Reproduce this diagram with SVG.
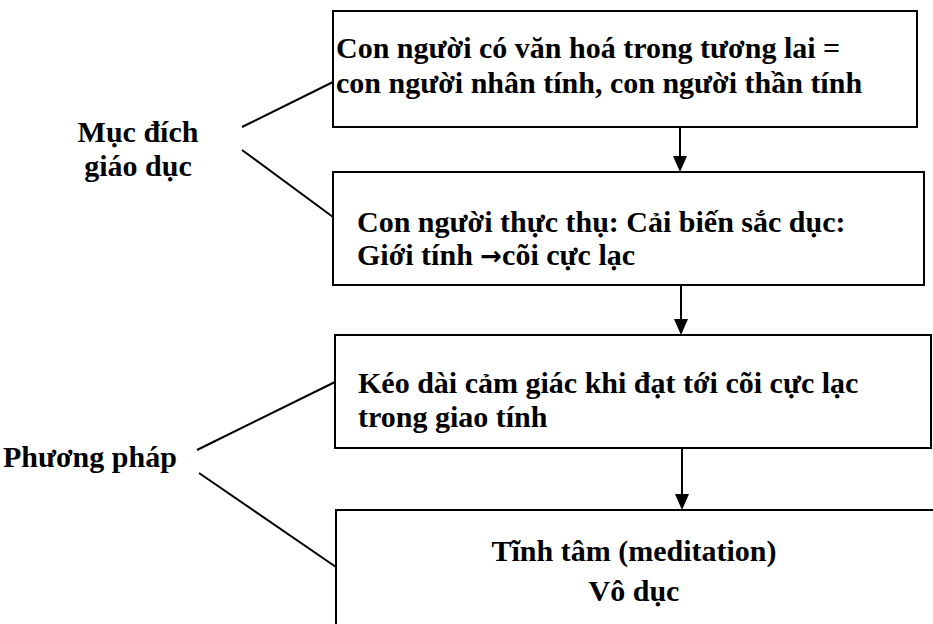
<svg xmlns="http://www.w3.org/2000/svg" width="933" height="624" viewBox="0 0 933 624">
<style>
.box{fill:#fff;stroke:#000;stroke-width:2}
.t{font-family:"Liberation Serif","Times New Roman","DejaVu Serif",serif;font-weight:bold;font-size:30px;fill:#000}
.c{text-anchor:middle}
.ar{font-family:"DejaVu Sans",sans-serif;font-size:26px}
.ln{stroke:#000;stroke-width:2;fill:none}
.head{fill:#000}
</style>
<rect width="933" height="624" fill="#fff"/>
<g id="connectors">
<line class="ln" x1="242" y1="127" x2="333" y2="82"/>
<line class="ln" x1="242" y1="150" x2="333" y2="217"/>
<line class="ln" x1="197" y1="450" x2="335" y2="382"/>
<line class="ln" x1="199" y1="473" x2="336" y2="567"/>
<line class="ln" x1="680" y1="127" x2="680" y2="156"/>
<path class="head" d="M673,156 L687,156 L680,172 Z"/>
<line class="ln" x1="681" y1="285" x2="681" y2="319"/>
<path class="head" d="M674,319 L688,319 L681,335 Z"/>
<line class="ln" x1="682" y1="448" x2="682" y2="494"/>
<path class="head" d="M675,494 L689,494 L682,510 Z"/>
</g>
<g id="label-muc-dich">
<text class="t c" x="138" y="142">Mục đích</text>
<text class="t c" x="138" y="176">giáo dục</text>
</g>
<g id="label-phuong-phap">
<text class="t" x="3" y="467">Phương pháp</text>
</g>
<g id="box1">
<rect class="box" x="333" y="11" width="584" height="116"/>
<text class="t" x="336" y="58">Con người có văn hoá trong tương lai =</text>
<text class="t" x="336" y="93">con người nhân tính, con người thần tính</text>
</g>
<g id="box2">
<rect class="box" x="333" y="172" width="591" height="113"/>
<text class="t" x="357" y="232">Con người thực thụ: Cải biến sắc dục:</text>
<text class="t" x="357" y="265">Giới tính <tspan class="ar">→</tspan>cõi cực lạc</text>
</g>
<g id="box3">
<rect class="box" x="335" y="335" width="596" height="113"/>
<text class="t" x="358" y="393">Kéo dài cảm giác khi đạt tới cõi cực lạc</text>
<text class="t" x="358" y="427">trong giao tính</text>
</g>
<g id="box4">
<rect class="box" x="336" y="510" width="610" height="130"/>
<text class="t c" x="634" y="561">Tĩnh tâm (meditation)</text>
<text class="t c" x="634" y="601">Vô dục</text>
</g>
</svg>
